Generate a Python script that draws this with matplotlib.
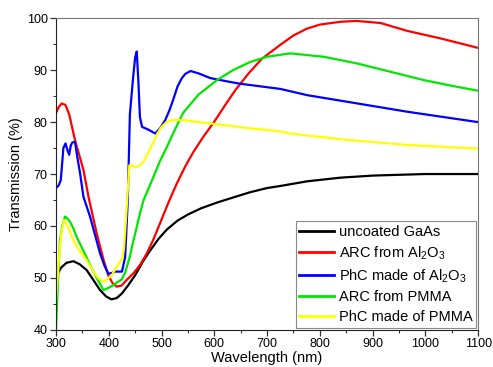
import matplotlib
matplotlib.use("Agg")
import matplotlib.pyplot as plt
from matplotlib.ticker import MultipleLocator

plt.rcParams['font.family'] = ['Liberation Sans', 'DejaVu Sans']
plt.rcParams['mathtext.fontset'] = 'custom'
plt.rcParams['mathtext.rm'] = 'Liberation Sans'
plt.rcParams['mathtext.it'] = 'Liberation Sans'

# uncoated GaAs
wl_gaas = [300, 310, 320, 333, 345, 358, 370, 383, 395, 405, 415, 425, 437, 450,
           465, 478, 495, 510, 530, 550, 575, 605, 630, 668, 700, 725, 776, 839,
           900, 966, 1000, 1100]
t_gaas = [50.3, 52.0, 52.9, 53.2, 52.6, 51.5, 49.7, 47.7, 46.4, 45.85, 46.1, 47.0,
          48.6, 50.5, 53.2, 55.2, 57.6, 59.3, 61.0, 62.2, 63.4, 64.5, 65.3, 66.5,
          67.3, 67.7, 68.6, 69.3, 69.7, 69.9, 70.0, 70.0]

# ARC from Al2O3
wl_arc_al = [300, 305, 311, 318, 325, 336, 345, 352, 362, 377, 390, 399, 407, 415,
             424, 434, 447, 460, 472, 485, 497, 513, 529, 545, 560, 580, 600, 620,
             640, 665, 690, 725, 750, 775, 800, 840, 870, 915, 965, 1030, 1100]
t_arc_al = [81.7, 82.9, 83.6, 83.3, 81.5, 76.5, 73.3, 70.8, 65.4, 58.6, 53.5, 50.5,
            49.0, 48.3, 48.5, 49.6, 50.9, 52.6, 54.7, 57.5, 60.5, 64.5, 68.2, 71.5,
            74.2, 77.3, 80.1, 83.2, 86.2, 89.4, 92.2, 94.9, 96.7, 98.0, 98.8, 99.35,
            99.5, 99.1, 97.6, 96.1, 94.3]

# PhC made of Al2O3
wl_phc_al = [300, 305, 309, 312, 314, 318, 322, 325, 328, 331, 336, 340, 345.5, 352,
             364.5, 383.5, 392, 399, 405, 412, 420, 425, 431, 436, 440, 446, 450,
             453, 456, 459, 463, 476, 488, 497, 507, 515, 522, 530, 538, 545, 555,
             570, 592, 627, 649, 725, 776, 871, 966, 1100]
t_phc_al = [67.3, 67.8, 68.8, 72.5, 75.0, 75.9, 74.5, 73.7, 75.5, 76.1, 76.2, 73.5,
            70.2, 65.6, 61.8, 54.7, 52.3, 50.8, 50.9, 51.2, 51.2, 51.2, 54.0, 65.0,
            81.5, 88.5, 92.5, 93.6, 88.0, 81.0, 79.1, 78.5, 77.8, 78.8, 80.4, 82.3,
            84.3, 86.8, 88.4, 89.3, 89.85, 89.4, 88.5, 87.8, 87.4, 86.4, 85.2, 83.6,
            82.0, 80.0]

# ARC from PMMA
wl_arc_pm = [300, 304, 307.6, 312, 317, 321, 326.6, 333, 339, 352, 364.5, 377, 389.8,
             398, 408.7, 417, 424.6, 431, 440, 444, 453, 459, 466, 482, 497, 510,
             525, 541, 570, 605, 635, 668, 700, 744, 807, 871, 934, 997, 1050, 1100]
t_arc_pm = [40.3, 50.0, 57.3, 60.0, 61.8, 61.5, 60.8, 59.5, 57.9, 55.2, 52.5, 50.0,
            47.65, 48.0, 48.6, 49.2, 49.7, 51.0, 54.1, 56.0, 59.8, 62.4, 65.0, 68.8,
            72.5, 75.2, 78.5, 81.8, 85.3, 88.1, 90.0, 91.6, 92.6, 93.25, 92.6, 91.3,
            89.7, 88.1, 87.0, 86.05]

# PhC made of PMMA
wl_phc_pm = [300, 305, 310, 315, 323, 331, 339, 348, 358, 371, 380, 390, 398, 405.6,
             413, 421, 426, 429, 433, 437, 439, 443.6, 448, 454, 460, 466, 475, 485,
             492, 500, 507, 516, 530, 541, 570, 605, 668, 725, 744, 839, 966, 1100]
t_phc_pm = [45.7, 53.0, 58.5, 61.1, 59.8, 57.7, 56.0, 54.8, 53.4, 51.2, 49.9, 49.25,
            49.8, 50.5, 51.8, 53.1, 53.8, 56.0, 62.0, 68.5, 71.7, 71.7, 71.4, 71.4,
            71.8, 72.4, 74.2, 76.2, 77.8, 79.1, 79.8, 80.3, 80.4, 80.4, 80.0, 79.6,
            78.8, 78.2, 77.8, 76.7, 75.6, 74.9]

series = [
    (wl_gaas, t_gaas, 'black', 'uncoated GaAs'),
    (wl_arc_al, t_arc_al, '#ff0000', 'ARC from Al$_2$O$_3$'),
    (wl_phc_al, t_phc_al, '#0000ff', 'PhC made of Al$_2$O$_3$'),
    (wl_arc_pm, t_arc_pm, '#00e600', 'ARC from PMMA'),
    (wl_phc_pm, t_phc_pm, '#ffff00', 'PhC made of PMMA'),
]

fig = plt.figure(figsize=(4.93, 3.67), dpi=100)
ax = fig.add_axes([0.1136, 0.1016, 0.8564, 0.8484])

for x, y, c, lab in series:
    ax.plot(x, y, color=c, lw=1.6, label=lab, solid_joinstyle='round')

ax.set_xlim(300, 1100)
ax.set_ylim(40, 100)
ax.xaxis.set_major_locator(MultipleLocator(100))
ax.xaxis.set_minor_locator(MultipleLocator(50))
ax.yaxis.set_major_locator(MultipleLocator(10))
ax.yaxis.set_minor_locator(MultipleLocator(5))
ax.tick_params(which='both', direction='out', top=False, right=False,
               labelsize=9, color='#333333', pad=2)
ax.tick_params(which='major', length=4, width=0.9)
ax.tick_params(which='minor', length=2.5, width=0.8)

for side in ['left', 'bottom']:
    ax.spines[side].set_color('#222222')
for side in ['top', 'right']:
    ax.spines[side].set_color('#777777')

ax.set_xlabel('Wavelength (nm)', fontsize=10.5, labelpad=1)
ax.set_ylabel('Transmission (%)', fontsize=10.5, labelpad=3)

leg = ax.legend(loc='lower right', fontsize=10.5, handlelength=2.4,
                handletextpad=0.3, borderaxespad=0.15, borderpad=0.25,
                labelspacing=0.38, fancybox=False, framealpha=1)
leg.get_frame().set_edgecolor('#888888')
leg.get_frame().set_linewidth(0.8)
for line in leg.get_lines():
    line.set_linewidth(2)

fig.savefig('out.png', dpi=100)
